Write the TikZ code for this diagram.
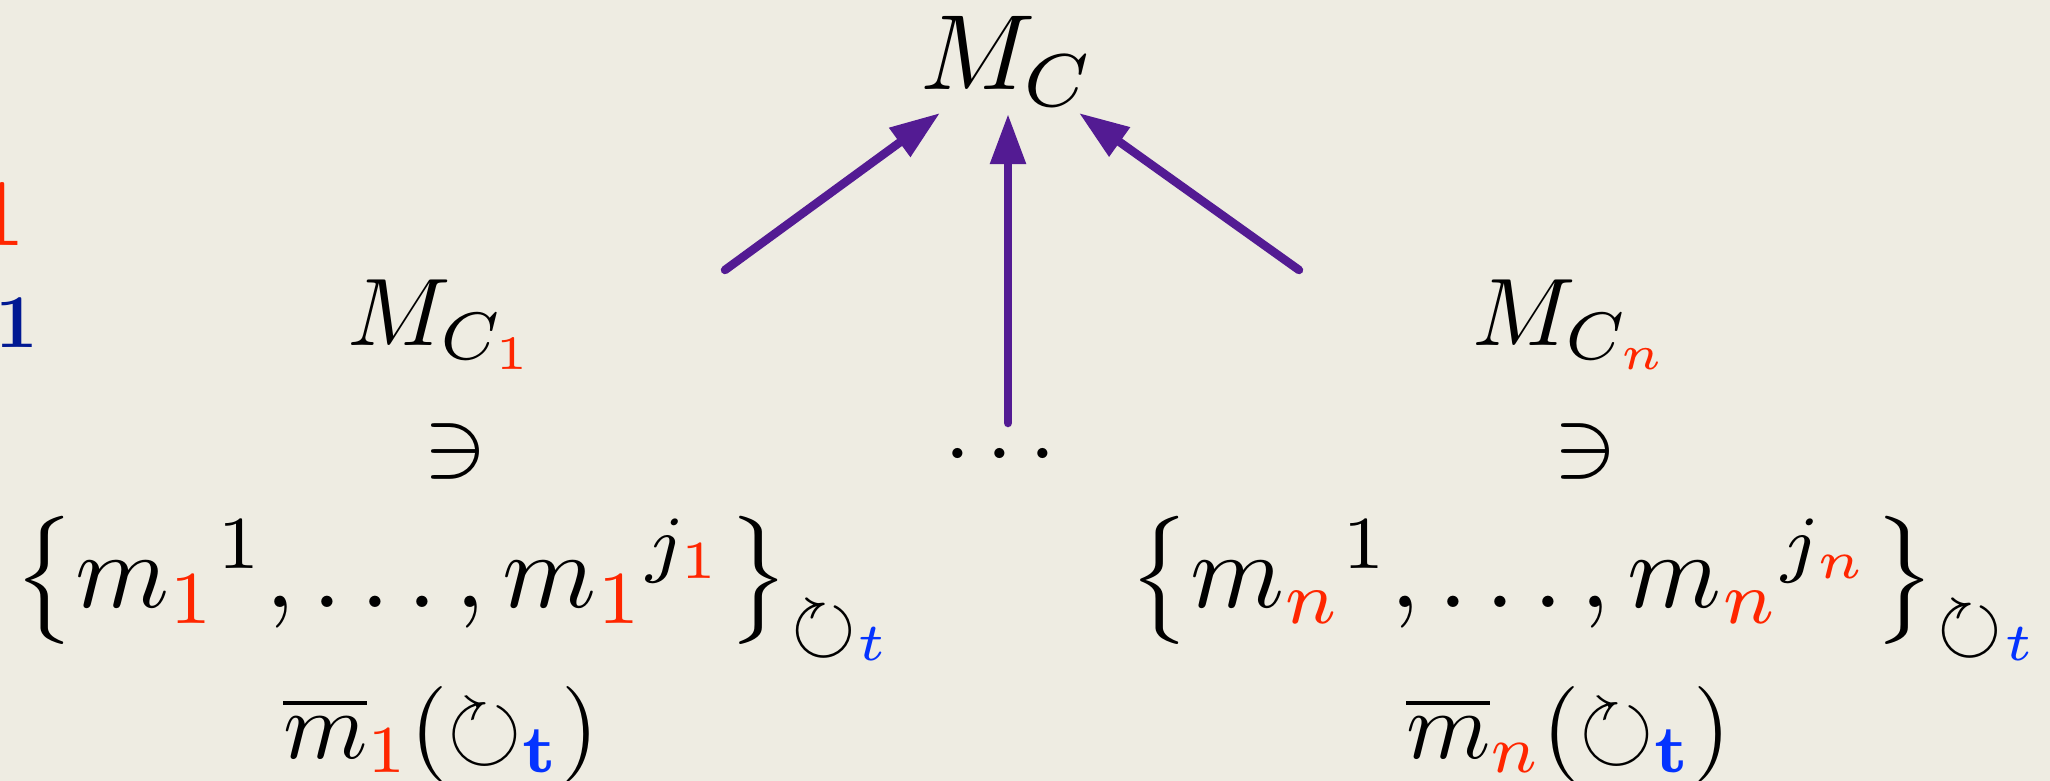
\documentclass[tikz,border=0pt]{standalone}
\usepackage{amsmath,amssymb}
\DeclareFontShape{OML}{cmm}{m}{it}{<-60> cmmi5 <60-85> cmmi7 <85-> cmmi10}{}
\DeclareFontShape{OMS}{cmsy}{m}{n}{<-60> cmsy5 <60-85> cmsy7 <85-> cmsy10}{}
\DeclareFontShape{OMX}{cmex}{m}{n}{<-> cmex10}{}
\DeclareFontShape{OT1}{cmr}{m}{n}{<-60> cmr5 <60-85> cmr7 <85-> cmr10}{}
\DeclareFontShape{OT1}{cmr}{bx}{n}{<-60> cmbx5 <60-85> cmbx7 <85-> cmbx10}{}
\DeclareFontFamily{U}{msa}{}
\DeclareFontShape{U}{msa}{m}{n}{<-60> msam5 <60-85> msam7 <85-> msam10}{}
\usetikzlibrary{arrows.meta}
\definecolor{kred}{RGB}{255,38,0}
\definecolor{kblue}{RGB}{4,51,255}
\definecolor{knavy}{RGB}{1,25,147}
\definecolor{kgrape}{RGB}{83,27,147}
\definecolor{bgcol}{RGB}{238,236,226}
\newcommand{\rc}[1]{{\color{kred}#1}}
\newcommand{\bc}[1]{{\color{kblue}#1}}
\newcommand{\bigsz}{\fontsize{107}{128}\selectfont\scriptspace 5.35pt\relax}
\newcommand{\medsz}{\fontsize{96}{115}\selectfont\scriptspace 4.8pt\relax}
\tikzset{
  every node/.style={inner sep=0pt, outer sep=0pt},
  bigtxt/.style={font=\bigsz},
  medtxt/.style={font=\medsz},
  arr/.style={draw=kgrape, line width=8.5pt, line cap=round,
    -{Triangle[length=50pt,width=34pt]}},
}
\begin{document}
\begin{tikzpicture}[x=1pt,y=-1pt]
\fill[bgcol] (0,0) rectangle (2050,781);
\useasboundingbox (0,0) rectangle (2050,781);
\clip (0,0) rectangle (2050,781);
% cut-off labels at left edge
\node[anchor=base east, text=kred, font=\fontsize{96}{110}\selectfont\bfseries] (lr) at (26,245) {1};
\node[anchor=base west, text=knavy, font=\fontsize{76}{90}\selectfont\bfseries] (lb) at (-5,347) {1};
% top
\node[bigtxt, anchor=base west] (mc) at (920,90) {$M_C$};
% middle row
\node[medtxt, anchor=base west] (mc1) at (347,345) {${M}_{{C}_{\rc{1}}}$};
\node[medtxt, anchor=base west] (mcn) at (1472,345) {${M}_{{C}_{\rc{n}}}$};
\node[medtxt, anchor=base] (ni1) at (455,475) {$\ni$};
\node[medtxt, anchor=base] (nin) at (1585,475) {$\ni$};
\node[medtxt, anchor=base] (dots) at (1008,477) {$\cdots$};
% sets
\node[bigtxt, anchor=base west] (set1) at (13,607)
  {$\left\{ {m_{\rc{1}}}^{1}, \ldots, {m_{\rc{1}}}^{j_{\rc{1}}} \right\}_{\circlearrowright_{\bc{t}}}$};
\node[bigtxt, anchor=base west] (setn) at (1128,607)
  {$\left\{ {m_{\rc{n}}}^{1}, \ldots, {m_{\rc{n}}}^{j_{\rc{n}}} \right\}_{\circlearrowright_{\bc{t}}}$};
% bottom
\node[medtxt, anchor=base west] (bar1) at (283,758)
  {$\overline{m}_{\rc{1}}(\circlearrowright_{\bc{\mathbf{t}}})$};
\node[medtxt, anchor=base west] (barn) at (1406,758)
  {$\overline{m}_{\rc{n}}(\circlearrowright_{\bc{\mathbf{t}}})$};
% arrows
\coordinate (tailL) at (725,270);
\coordinate (tipL) at (940,113);
\coordinate (tailM) at (1008,423);
\coordinate (tipM) at (1008,114);
\coordinate (tailR) at (1299,270);
\coordinate (tipR) at (1079,113);
\draw[arr] (tailL) -- (tipL);
\draw[arr] (tailM) -- (tipM);
\draw[arr] (tailR) -- (tipR);
\end{tikzpicture}
\end{document}
